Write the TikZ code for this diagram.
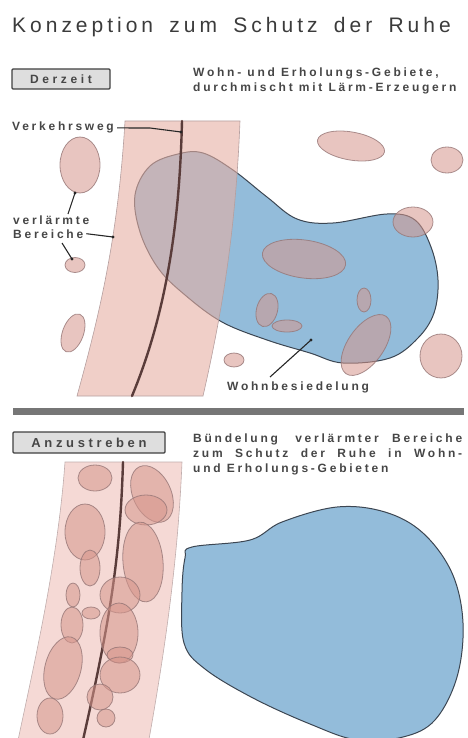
\documentclass[tikz,border=0pt]{standalone}
\usepackage{fontspec}
\setmainfont{Liberation Sans}
\definecolor{roadpink}{RGB}{230,175,163}
\definecolor{roadpinkB}{RGB}{236,186,178}
\definecolor{noisefill}{RGB}{214,150,140}
\definecolor{noiseline}{RGB}{150,118,118}
\definecolor{blobblue}{RGB}{147,188,218}
\definecolor{blobline}{RGB}{60,70,82}
\definecolor{roadline}{RGB}{90,60,58}
\definecolor{txt}{RGB}{70,70,70}
\definecolor{boxfill}{RGB}{222,222,222}
\definecolor{sepgray}{RGB}{118,118,118}
\tikzset{
  road/.style={fill=roadpink, fill opacity=0.6, draw=noiseline!70, line width=0.6},
  roadB/.style={fill=roadpinkB, fill opacity=0.55, draw=noiseline!60, line width=0.6},
  centre/.style={draw=roadline, line width=2.4, line cap=round},
  noise/.style={fill=noisefill, fill opacity=0.55, draw=noiseline, draw opacity=0.8, line width=0.8},
  blob/.style={fill=blobblue, draw=blobline, line width=1},
  lead/.style={draw=black!85, line width=1.1},
  tag/.style={draw=black!75, line width=1.2, fill=boxfill, rounded corners=1pt, inner sep=0pt, text=txt},
  small/.style={text=txt, inner sep=0pt, font=\fontsize{12}{12}\selectfont\bfseries\addfontfeatures{LetterSpace=23}},
}
\begin{document}
\begin{tikzpicture}[x=1pt,y=-1pt]
\useasboundingbox (0,0) rectangle (467,738);
\clip (0,0) rectangle (467,738);

% title
\node[anchor=base west, inner sep=0pt, text=txt!85!black, font=\fontsize{21}{21}\selectfont\addfontfeatures{LetterSpace=19}] (title) at (12,33) {Konzeption\hspace{6.5pt} zum\hspace{6.5pt} Schutz\hspace{6.5pt} der\hspace{6.5pt} Ruhe};

% ---------- upper part ----------
\node[tag, minimum width=98pt, minimum height=20pt, font=\fontsize{12}{12}\selectfont\bfseries\addfontfeatures{LetterSpace=30}] (derzeit) at (61,79) {Derzeit};
\node[small, anchor=base west] (u1) at (193,77) {Wohn- und Erholungs-Gebiete,};
\node[small, anchor=base west] (u2) at (193,92) {durchmischt mit Lärm-Erzeugern};

% residential blob (upper)
\draw[blob] plot[smooth cycle, tension=0.6] coordinates {(135,195) (150,166) (178,154) (203,153) (233,170) (267,197) (297,219) (333,223) (387,214) (415,220) (431,247) (438,280) (434,313) (418,338) (390,358) (343,363) (310,353) (267,340) (222,322) (185,295) (158,268) (140,232)};

% road (upper)
\path[road] (125,121) -- (240,121) .. controls (236,220) and (225,300) .. (203,396) -- (77,396) .. controls (98,320) and (118,240) .. cycle;
\draw[centre] (182,121) .. controls (180,200) and (172,300) .. (132,396);

% noise areas (upper)
\draw[noise] (80,165) ellipse (20 and 28);
\draw[noise] (75,265) ellipse (10 and 7.5);
\draw[noise, shift={(73,333)}, rotate=-20] (0,0) ellipse (10.5 and 20);
\draw[noise] (234,360) ellipse (10 and 7);
\draw[noise, shift={(351,146)}, rotate=-10] (0,0) ellipse (34 and 14);
\draw[noise] (447,160) ellipse (16 and 13);
\draw[noise] (413,222) ellipse (20 and 15);
\draw[noise, shift={(304,259)}, rotate=-8] (0,0) ellipse (42 and 19);
\draw[noise, shift={(267,310)}, rotate=-15] (0,0) ellipse (10.5 and 17);
\draw[noise] (287,326) ellipse (15 and 6);
\draw[noise] (364,300) ellipse (7 and 12);
\draw[noise, shift={(366,345)}, rotate=-35] (0,0) ellipse (18 and 35);
\draw[noise] (441,356) ellipse (21 and 22);

% labels upper
\node[small, anchor=base west] (vw) at (12,131) {Verkehrsweg};
\coordinate (vwend) at (181,132);
\draw[lead] (vw.east) ++(3pt,0) -- (150,128) -- (vwend);
\fill[black!85] (vwend) circle (1.6);

\node[small, anchor=base west] (vb1) at (13,224) {verlärmte};
\node[small, anchor=base west] (vb2) at (13,238) {Bereiche};
\coordinate (vbA) at (75,193);
\coordinate (vbB) at (113,237);
\coordinate (vbC) at (72,259);
\draw[lead] (68,214) -- (vbA);
\draw[lead] (vb2.east) ++(3pt,0) -- (vbB);
\draw[lead] (62,243) -- (vbC);
\fill[black!85] (vbA) circle (1.6) (vbB) circle (1.6) (vbC) circle (1.6);

\node[small, anchor=base west] (wb) at (227,390) {Wohnbesiedelung};
\coordinate (wbend) at (311,340);
\draw[lead] (270,377) -- (wbend);
\fill[black!85] (wbend) circle (1.6);

% separator
\fill[sepgray] (13,408) rectangle (464,415);

% ---------- lower part ----------
\node[tag, minimum width=152pt, minimum height=21pt, font=\fontsize{13}{13}\selectfont\bfseries\addfontfeatures{LetterSpace=28}] (anz) at (89,442.5) {Anzustreben};
\node[small, anchor=base west] (l1) at (193,442) {\makebox[269pt][s]{Bündelung\hspace{4pt} verlärmter Bereiche}};
\node[small, anchor=base west] (l2) at (193,457) {\makebox[269pt][s]{zum Schutz der Ruhe in Wohn-}};
\node[small, anchor=base west] (l3) at (193,472) {und Erholungs-Gebieten};

% residential blob (lower)
\draw[blob] plot[smooth cycle, tension=0.6] coordinates {(192,547) (250,540) (282,522) (337,507) (385,512) (423,533) (452,573) (463,623) (457,677) (435,720) (403,737) (357,740) (310,724) (253,698) (205,669) (184,643) (182,592) (185,558)};

% road (lower)
\path[roadB] (65,462) -- (182,462) .. controls (178,560) and (165,650) .. (148,745) -- (17,745) .. controls (35,660) and (58,560) .. cycle;
\draw[centre] (123,462) .. controls (120,560) and (110,620) .. (83,740);

% bundled noise areas
\draw[noise] (95,478) ellipse (17 and 13);
\draw[noise, shift={(152,494)}, rotate=25] (0,0) ellipse (19 and 30);
\draw[noise] (146,510) ellipse (21 and 15);
\draw[noise] (85,532) ellipse (20 and 28);
\draw[noise] (90,568) ellipse (10 and 18);
\draw[noise, shift={(143,562)}, rotate=5] (0,0) ellipse (20 and 40);
\draw[noise] (73,595) ellipse (7 and 12);
\draw[noise] (120,595) ellipse (20 and 18);
\draw[noise] (91,613) ellipse (9 and 6);
\draw[noise] (72,625) ellipse (11 and 18);
\draw[noise] (119,633) ellipse (19 and 30);
\draw[noise] (120,655) ellipse (13 and 8);
\draw[noise, shift={(63,668)}, rotate=-15] (0,0) ellipse (18 and 32);
\draw[noise] (120,675) ellipse (20 and 18);
\draw[noise] (100,697) ellipse (13 and 13);
\draw[noise] (50,716) ellipse (13 and 18);
\draw[noise] (106,718) ellipse (9 and 9);
\end{tikzpicture}
\end{document}
